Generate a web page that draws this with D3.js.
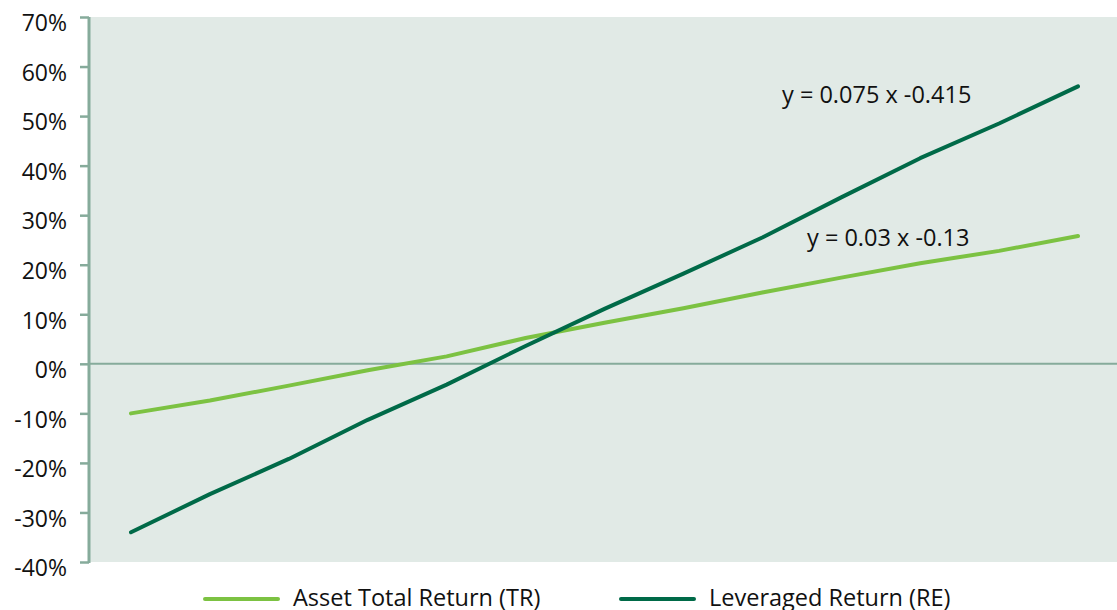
<!DOCTYPE html>
<html>
<head>
  <meta charset="utf-8">
  <script src="https://d3js.org/d3.v7.min.js"></script>
  <style>
    body { margin: 0; background: #fff; }
    text { font-family: "Open Sans", sans-serif; fill: #111; }
  </style>
</head>
<body>
  <script type="text/javascript">
    // chart data
    var periods = [1, 2, 3, 4, 5, 6, 7, 8, 9, 10, 11, 12, 13];
    var assetTR = [-10, -7.4, -4.4, -1.3, 1.5, 5.2, 8.3, 11.2, 14.4, 17.4, 20.3, 22.8, 25.8];
    var leveragedRE = [-34, -26.3, -19.2, -11.3, -4.2, 3.6, 11.1, 18.2, 25.5, 33.6, 41.5, 48.5, 56];
    var yTicks = [-40, -30, -20, -10, 0, 10, 20, 30, 40, 50, 60, 70];
    var seriesNames = ["Asset Total Return (TR)", "Leveraged Return (RE)"];
    var trendLabels = ["y = 0.03 x -0.13", "y = 0.075 x -0.415"];

    function draw() {
      "use strict";
      var width = 1117, height = 610;
      var plotL = 89, plotT = 17, plotR = 1117, plotB = 562;
      var axisColor = "#86ab9b";
      var colors = ["#7cc242", "#006a48"];

      var svg = d3.select("body").append("svg")
        .attr("width", width)
        .attr("height", height);

      var x = d3.scaleLinear().domain([1, 13]).range([131, 1078]);
      var y = d3.scaleLinear().domain([-40, 70]).range([plotB, plotT]);

      // plot background
      svg.append("rect")
        .attr("x", plotL).attr("y", plotT)
        .attr("width", plotR - plotL).attr("height", plotB - plotT)
        .attr("fill", "#e1eae6");

      // zero line
      svg.append("line")
        .attr("x1", plotL).attr("x2", plotR)
        .attr("y1", y(0)).attr("y2", y(0))
        .attr("stroke", axisColor).attr("stroke-width", 2);

      // y axis
      var yAxis = d3.axisLeft(y)
        .tickValues(yTicks)
        .tickSize(9)
        .tickPadding(13)
        .tickFormat(function(d) { return d + "%"; });

      var ax = svg.append("g")
        .attr("transform", "translate(" + plotL + ",0)")
        .call(yAxis);
      ax.select(".domain").remove();
      ax.append("line")
        .attr("x1", 0).attr("x2", 0)
        .attr("y1", plotT).attr("y2", plotB + 1)
        .attr("stroke", axisColor).attr("stroke-width", 3);
      ax.selectAll(".tick line")
        .attr("stroke", axisColor).attr("stroke-width", 2.5);
      ax.selectAll(".tick text")
        .attr("font-size", 23)
        .attr("font-family", "Open Sans, sans-serif")
        .attr("fill", "#111")
        .attr("dy", "0.6em");

      // lines
      var line = d3.line()
        .x(function(d, i) { return x(periods[i]); })
        .y(function(d) { return y(d); });

      [assetTR, leveragedRE].forEach(function(s, k) {
        svg.append("path")
          .datum(s)
          .attr("d", line)
          .attr("fill", "none")
          .attr("stroke", colors[k])
          .attr("stroke-width", 4)
          .attr("stroke-linecap", "round")
          .attr("stroke-linejoin", "round");
      });

      // trend equations
      svg.append("text")
        .attr("x", 807).attr("y", 246)
        .attr("font-size", 23.5)
        .text(trendLabels[0]);
      svg.append("text")
        .attr("x", 782).attr("y", 103)
        .attr("font-size", 23.5)
        .text(trendLabels[1]);

      // legend
      var legendX = [205, 621];
      seriesNames.forEach(function(name, k) {
        svg.append("line")
          .attr("x1", legendX[k]).attr("x2", legendX[k] + 73)
          .attr("y1", 599).attr("y2", 599)
          .attr("stroke", colors[k]).attr("stroke-width", 4)
          .attr("stroke-linecap", "round");
        svg.append("text")
          .attr("x", legendX[k] + 88).attr("y", 606)
          .attr("font-size", 23.5)
          .text(name);
      });
    }

    draw();
  </script>
</body>
</html>
